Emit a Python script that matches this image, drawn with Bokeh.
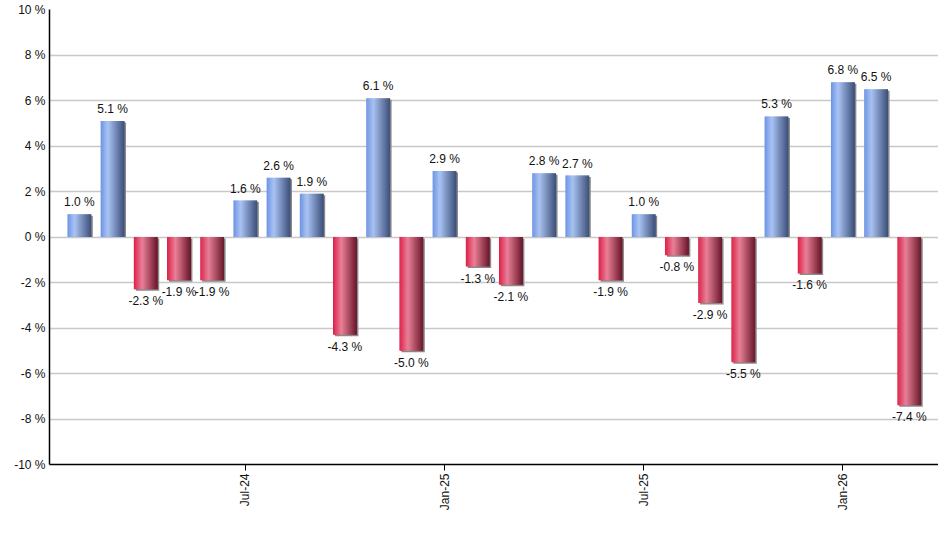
import numpy as np
from bokeh.plotting import figure
from bokeh.models import Range1d, FixedTicker, ColumnDataSource
from bokeh.core.properties import value
from bokeh.embed import file_html
from bokeh.resources import INLINE

# ---- data ----
months = ["Feb-24", "Mar-24", "Apr-24", "May-24", "Jun-24", "Jul-24", "Aug-24", "Sep-24",
          "Oct-24", "Nov-24", "Dec-24", "Jan-25", "Feb-25", "Mar-25", "Apr-25", "May-25",
          "Jun-25", "Jul-25", "Aug-25", "Sep-25", "Oct-25", "Nov-25", "Dec-25", "Jan-26",
          "Feb-26", "Mar-26"]
returns = [1.0, 5.1, -2.3, -1.9, -1.9, 1.6, 2.6, 1.9, -4.3, 6.1, -5.0, 2.9, -1.3, -2.1,
           2.8, 2.7, -1.9, 1.0, -0.8, -2.9, -5.5, 5.3, -1.6, 6.8, 6.5, -7.4]
tick_months = ["Jul-24", "Jan-25", "Jul-25", "Jan-26"]
y_ticks = [-10, -8, -6, -4, -2, 0, 2, 4, 6, 8, 10]

# ---- style ----
FONT = "Liberation Sans"
FS = "12px"
BAR_W = 0.72
N_STRIPS = 24
blue_stops = [(0.0, (108, 147, 228)), (0.3, (170, 196, 244)), (1.0, (58, 77, 120))]
red_stops = [(0.0, (220, 32, 71)), (0.35, (234, 128, 152)), (1.0, (104, 20, 40))]

X0, X1 = -0.9, 25.88
W, H = 938, 530
BL, BR, BT, BB = 49, 0, 9, 66
px_x = (W - BL - BR) / (X1 - X0)
px_y = (H - BT - BB) / 20.0


def grad(stops, t):
    for (t0, c0), (t1, c1) in zip(stops[:-1], stops[1:]):
        if t <= t1:
            f = (t - t0) / (t1 - t0)
            c = [round(a + (b - a) * f) for a, b in zip(c0, c1)]
            return "#%02x%02x%02x" % tuple(c)
    return "#%02x%02x%02x" % stops[-1][1]


idx = np.arange(len(returns))
vals = np.array(returns)

p = figure(width=W, height=H, output_backend="svg", toolbar_location=None,
           x_range=Range1d(X0, X1), y_range=Range1d(-10, 10),
           min_border_left=BL, min_border_right=BR, min_border_top=BT, min_border_bottom=BB,
           background_fill_color="white", border_fill_color="white")
p.outline_line_color = None

# shadow
sl, sr, sb, st = [], [], [], []
for i, v in zip(idx, vals):
    sl.append(i - BAR_W / 2 + 2 / px_x)
    sr.append(i + BAR_W / 2 + 1.5 / px_x)
    if v >= 0:
        sb.append(0)
        st.append(v - 1.5 / px_y)
    else:
        sb.append(v - 1.5 / px_y)
        st.append(-1.5 / px_y)
p.quad(left=sl, right=sr, bottom=sb, top=st, fill_color="#8a8a8a", line_color=None)

# gradient strips
L, R, B, T, C = [], [], [], [], []
sw = BAR_W / N_STRIPS
for i, v in zip(idx, vals):
    stops = blue_stops if v >= 0 else red_stops
    for k in range(N_STRIPS):
        t = (k + 0.5) / N_STRIPS
        left = i - BAR_W / 2 + k * sw
        right = left + sw * (1.6 if k < N_STRIPS - 1 else 1.0)
        L.append(left); R.append(right)
        B.append(min(v, 0)); T.append(max(v, 0))
        C.append(grad(stops, t))
p.quad(left=L, right=R, bottom=B, top=T, fill_color=C, line_color=None)

# value labels
labels = [f"{v:.1f} %" for v in returns]
pos = ColumnDataSource(dict(x=[i for i, v in zip(idx, vals) if v >= 0],
                            y=[v for v in vals if v >= 0],
                            t=[l for l, v in zip(labels, vals) if v >= 0]))
neg = ColumnDataSource(dict(x=[i for i, v in zip(idx, vals) if v < 0],
                            y=[v for v in vals if v < 0],
                            t=[l for l, v in zip(labels, vals) if v < 0]))
p.text(x="x", y="y", text="t", source=pos, text_align="center", text_baseline="bottom",
       y_offset=-5, text_font=value(FONT), text_font_size=FS, text_color="#111111")
p.text(x="x", y="y", text="t", source=neg, text_align="center", text_baseline="top",
       y_offset=5, text_font=value(FONT), text_font_size=FS, text_color="#111111")

# axes
p.xgrid.grid_line_color = None
p.ygrid.grid_line_color = "#c8c8c8"
p.ygrid.grid_line_width = 1.3
p.ygrid.ticker = FixedTicker(ticks=y_ticks)

p.yaxis.ticker = FixedTicker(ticks=y_ticks)
p.yaxis.major_label_overrides = {v: f"{v} %" for v in y_ticks}
p.yaxis.major_tick_out = 0
p.yaxis.major_tick_in = 0
p.yaxis.minor_tick_out = 0
p.yaxis.minor_tick_in = 0
p.yaxis.axis_line_color = "black"
p.yaxis.axis_line_width = 1.5
p.yaxis.major_label_text_font = FONT
p.yaxis.major_label_text_font_size = FS
p.yaxis.major_label_text_color = "#111111"
p.yaxis.major_label_standoff = 4

tick_idx = [months.index(m) for m in tick_months]
p.xaxis.ticker = FixedTicker(ticks=tick_idx)
p.xaxis.major_label_overrides = {i: m for i, m in zip(tick_idx, tick_months)}
p.xaxis.major_label_orientation = np.pi / 2
p.xaxis.major_tick_out = 6
p.xaxis.major_tick_in = 0
p.xaxis.minor_tick_out = 0
p.xaxis.minor_tick_in = 0
p.xaxis.axis_line_color = "black"
p.xaxis.axis_line_width = 1.5
p.xaxis.major_tick_line_color = "black"
p.xaxis.major_label_text_font = FONT
p.xaxis.major_label_text_font_size = FS
p.xaxis.major_label_text_color = "#111111"
p.xaxis.major_label_standoff = 3

open("out.html", "w").write(file_html(p, INLINE))
